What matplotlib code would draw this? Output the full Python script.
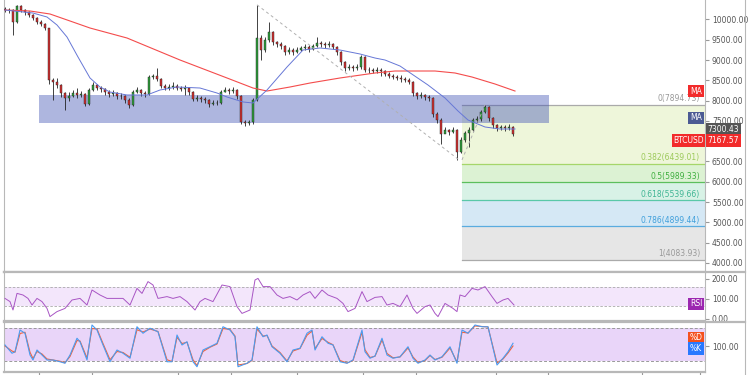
import matplotlib
matplotlib.use("Agg")
import matplotlib.pyplot as plt
import numpy as np
from matplotlib.lines import Line2D

# ---------------------------------------------------------------- #
# Data (BTCUSD, bar index = time)
# ---------------------------------------------------------------- #
first_open = 10260
closes = [10230, 10230, 9936, 10330, 10230, 10180, 10110, 10035, 9936, 9890,
          9790, 8507, 8458, 8384, 8187, 8064, 8114, 8187, 8138, 8163,
          7916, 8261, 8384, 8310, 8285, 8212, 8163, 8187, 8114, 8114,
          8015, 7892, 8212, 8261, 8187, 8163, 8581, 8606, 8532, 8360,
          8310, 8335, 8360, 8310, 8285, 8310, 8212, 8040, 8064, 8040,
          8015, 7916, 7941, 7941, 8212, 8261, 8236, 8261, 8114, 7473,
          7448, 7473, 8015, 9542, 9246, 9492, 9690, 9443, 9394, 9345,
          9197, 9246, 9197, 9246, 9296, 9320, 9271, 9345, 9419, 9394,
          9369, 9394, 9320, 9197, 8951, 8803, 8827, 8803, 8827, 9074,
          8754, 8754, 8729, 8754, 8729, 8655, 8606, 8581, 8557, 8532,
          8507, 8458, 8187, 8114, 8138, 8089, 8064, 7670, 7522, 7177,
          7276, 7227, 7276, 6734, 7029, 7202, 7276, 7522, 7546, 7719,
          7842, 7571, 7399, 7325, 7350, 7325, 7350, 7167.57]
highs = [10300, 10290, 10250, 10355, 10350, 10260, 10200, 10140, 10060, 9980,
         9920, 9800, 8560, 8560, 8420, 8220, 8200, 8260, 8300, 8240,
         8190, 8300, 8460, 8420, 8360, 8320, 8260, 8250, 8220, 8180,
         8150, 8060, 8260, 8330, 8290, 8240, 8620, 8660, 8800, 8560,
         8400, 8400, 8460, 8400, 8360, 8380, 8340, 8230, 8130, 8110,
         8090, 8040, 8010, 8010, 8270, 8330, 8310, 8330, 8290, 8130,
         7520, 7530, 8060, 10360, 9620, 9560, 9930, 9720, 9480, 9450,
         9380, 9320, 9290, 9310, 9350, 9390, 9360, 9400, 9560, 9470,
         9450, 9460, 9420, 9340, 9220, 8980, 8890, 8880, 8890, 9120,
         9090, 8820, 8800, 8820, 8800, 8760, 8700, 8660, 8640, 8620,
         8590, 8560, 8480, 8220, 8200, 8170, 8140, 8090, 7720, 7560,
         7340, 7310, 7340, 7300, 7100, 7260, 7340, 7570, 7620, 7780,
         7895, 7860, 7600, 7420, 7410, 7400, 7420, 7380]
lows = [10180, 10170, 9615, 9900, 10180, 10120, 10060, 9980, 9880, 9830,
        9740, 8400, 8020, 8300, 8100, 7770, 8000, 8080, 8060, 8080,
        7860, 7880, 8230, 8250, 8220, 8150, 8100, 8120, 8040, 8050,
        7950, 7820, 7870, 8190, 8120, 8100, 8130, 8530, 8480, 8300,
        8250, 8270, 8290, 8250, 8230, 8140, 8150, 7980, 8000, 7960,
        7950, 7850, 7880, 7880, 7920, 8200, 8170, 8190, 8050, 7420,
        7380, 7400, 7430, 8000, 9000, 9200, 9450, 9380, 9330, 9280,
        9130, 9150, 9120, 9170, 9220, 9250, 9200, 9240, 9320, 9330,
        9300, 9320, 9260, 9130, 8880, 8740, 8760, 8740, 8760, 8790,
        8700, 8690, 8670, 8690, 8600, 8600, 8550, 8520, 8500, 8470,
        8450, 8400, 8120, 8040, 8060, 8020, 7990, 7600, 7450, 6930,
        7200, 7150, 7200, 6540, 6700, 6980, 6860, 7250, 7470, 7490,
        7700, 7500, 7330, 7260, 7280, 7260, 7270, 7120]

# moving averages (sampled along the curve)
ma_slow_bar = [0, 6.25, 11.25, 16.25, 21.25, 30.5, 43.75, 55.5, 62, 65.5,
               71.25, 76.25, 83.75, 92.5, 97.5, 107.5, 112.5, 116.75, 122.5, 127.5]
ma_slow_val = [10231, 10207, 10133, 9961, 9788, 9542, 9000, 8557, 8310, 8236,
               8335, 8433, 8557, 8680, 8729, 8729, 8680, 8581, 8409, 8236]
ma_fast_bar = [0, 7, 10.5, 13, 15.5, 18.25, 21.25, 23.75, 26.25, 30.5,
               35.5, 38.75, 43, 48.75, 53, 55.5, 59.5, 62, 65.5, 70.5,
               74.5, 78.75, 83.75, 88.75, 92.5, 95, 98.75, 105.75, 110, 113.25,
               115.75, 120, 123.75, 127.5]
ma_fast_val = [10231, 10157, 10059, 9862, 9566, 9074, 8557, 8335, 8212, 8138,
               8138, 8261, 8335, 8310, 8187, 8089, 7966, 7941, 8261, 8827,
               9246, 9296, 9246, 9148, 9049, 9000, 8852, 8384, 8064, 7744,
               7522, 7350, 7300, 7300.43]

# support zone and fibonacci levels
zone_lo, zone_hi = 7455, 8140
zone_bars = (8.5, 136)
fib_ratios = [0, 0.382, 0.5, 0.618, 0.786, 1]
fib_prices = [7894.73, 6439.01, 5989.33, 5539.66, 4899.44, 4083.93]

# RSI
rsi_bar = [0, 1.25, 2, 3, 4.5, 5.75, 6.75, 8, 9.25, 10.5,
           11.25, 13, 15, 16.75, 18.75, 20.5, 21.75, 23.75, 25.5, 27,
           29.5, 31.25, 33, 34.25, 35.75, 37, 38.25, 40.5, 42, 43.75,
           45.5, 47.5, 48.75, 50, 52, 54.25, 56.25, 58, 59.25, 61.25,
           62.5, 63.25, 64.5, 66.25, 68, 69.5, 71.25, 73, 74.5, 76.25,
           77.5, 79.25, 80.75, 83, 84.5, 85.75, 87.5, 89.25, 90.5, 92.5,
           94.25, 95.5, 97, 98.75, 100.5, 102, 103, 105, 106.25, 107.5,
           108.25, 110, 112, 113, 113.75, 115, 116.75, 118.25, 120, 121.75,
           123, 124.5, 125.75, 127.25]
rsi_val = [103, 87, 45, 128, 120, 103, 70, 103, 87, 53,
           12, 37, 53, 95, 103, 70, 145, 120, 103, 103,
           103, 70, 153, 128, 187, 170, 103, 112, 103, 112,
           87, 45, 87, 103, 87, 170, 162, 62, 28, 45,
           195, 203, 162, 162, 120, 103, 112, 95, 120, 137,
           103, 145, 120, 103, 78, 37, 53, 137, 87, 108,
           112, 70, 78, 62, 120, 53, 28, 62, 70, 28,
           12, 78, 53, 37, 120, 112, 153, 145, 162, 112,
           78, 95, 103, 70]
rsi_band = (65, 158)

# Stochastic
stoch_bar = [0, 1.75, 2.5, 3.75, 5, 6.25, 7, 8, 9.25, 10.5,
             12, 13.75, 15, 16.25, 18, 18.75, 20.5, 21.75, 23, 24.5,
             26.25, 28, 29.5, 31.25, 33, 34.5, 36.25, 38.25, 40.5, 41.75,
             43, 44.25, 45.5, 47, 48, 49.5, 51.25, 53, 54.5, 56.25,
             57.5, 58.25, 60.5, 61.75, 63, 64.5, 65.5, 66.75, 68.75, 70.5,
             72, 73.75, 75.5, 76.75, 77.5, 79.25, 80.75, 82, 83.75, 85.5,
             87, 89.25, 90, 91.25, 92.5, 94.25, 95.5, 97, 98.75, 100.75,
             102, 103.25, 105, 106.25, 107.5, 109.25, 111.25, 113, 114.25, 115.75,
             117.5, 119.25, 120.75, 123, 124.5, 125.75, 127]
stoch_k = [104, 71, 77, 164, 151, 64, 44, 84, 64, 44,
           44, 37, 31, 64, 131, 117, 44, 184, 164, 104,
           37, 84, 71, 51, 177, 151, 171, 157, 37, 37,
           144, 104, 117, 37, 17, 84, 97, 111, 177, 164,
           137, 17, 31, 44, 177, 137, 144, 97, 71, 37,
           84, 91, 151, 164, 84, 137, 111, 104, 37, 31,
           44, 164, 77, 51, 60, 131, 64, 51, 57, 97,
           51, 31, 44, 64, 44, 57, 97, 31, 164, 151,
           184, 177, 177, 24, 51, 77, 111]
stoch_d = [100, 80, 75, 150, 155, 75, 50, 78, 68, 48,
           44, 39, 33, 58, 122, 120, 52, 170, 168, 110,
           45, 78, 74, 55, 165, 156, 168, 158, 45, 38,
           135, 110, 115, 45, 22, 78, 95, 108, 170, 166,
           140, 24, 30, 42, 168, 140, 142, 100, 74, 40,
           80, 90, 143, 160, 90, 130, 115, 105, 42, 32,
           42, 155, 85, 54, 59, 124, 70, 53, 56, 92,
           56, 34, 42, 62, 46, 55, 92, 36, 155, 152,
           180, 178, 176, 32, 48, 72, 100]
stoch_band = (40, 171)

time_ticks = [8.5, 21.75, 43.25, 56.5, 73, 89.5, 102.75, 122.75, 135.75, 159.25, 173.75]

# ---------------------------------------------------------------- #
W, H = 750, 375
fig = plt.figure(figsize=(W / 100, H / 100), dpi=100)
fig.patch.set_facecolor("white")


def px_rect(x0, y0, x1, y1):
    return [x0 / W, 1 - y1 / H, (x1 - x0) / W, (y1 - y0) / H]


ax = fig.add_axes(px_rect(4, 0, 705, 272))
ax_rsi = fig.add_axes(px_rect(4, 273, 705, 321), sharex=ax)
ax_st = fig.add_axes(px_rect(4, 322, 705, 372), sharex=ax)

XLIM = (-0.25, 175)
GRID = "#b8b8b8"

for a in (ax, ax_rsi, ax_st):
    a.set_xlim(*XLIM)
    a.yaxis.tick_right()
    a.tick_params(axis="y", direction="out", length=3, color="#999",
                  labelsize=5.5, labelcolor="#555", pad=2)
    a.tick_params(axis="x", bottom=False, labelbottom=False)
    a.spines["top"].set_visible(False)
    for s in ("left", "right", "bottom"):
        a.spines[s].set_color(GRID)
    a.spines["left"].set_linewidth(0.8)
    a.spines["right"].set_linewidth(0.8)
    a.spines["bottom"].set_linewidth(1.6)

# ----- main price pane ----- #
price_ticks = np.arange(4000, 10001, 500)
ax.set_ylim(3778, 10478)
ax.set_yticks(price_ticks)
# the 7000 label sits under the last-price tag in the reference
ax.set_yticklabels(["" if v == 7000 else f"{v:.2f}" for v in price_ticks])

# fibonacci fills and levels
fib_x0 = 114.25
fib_fill = ["#eef6da", "#dcf2d3", "#d8f2e6", "#d5e8f5", "#e6e6e6"]
fib_line = ["#aaaaaa", "#a5d66a", "#5cbf5c", "#5ac8a8", "#5aacdf", "#aaaaaa"]
fib_text = ["#999999", "#9cc95a", "#3fae3f", "#3fb594", "#3f9fdb", "#999999"]
for i in range(len(fib_prices) - 1):
    ax.fill_between([fib_x0, XLIM[1]], fib_prices[i + 1], fib_prices[i],
                    color=fib_fill[i], lw=0, zorder=1)
for r, p, lc, tc in zip(fib_ratios, fib_prices, fib_line, fib_text):
    ax.plot([fib_x0, XLIM[1]], [p, p], color=lc, lw=0.9, zorder=2)
    ax.text(173.75, p + 40, f"{r:g}({p:.2f})", color=tc, fontsize=5.5,
            ha="right", va="bottom", zorder=6)

# support zone
ax.fill_between(list(zone_bars), zone_lo, zone_hi, color="#3f51b5", alpha=0.42,
                lw=0, zorder=2)

# candles
bars = np.arange(len(closes))
c = np.array(closes, dtype=float)
o = np.array([first_open] + closes[:-1], dtype=float)
body_lo = np.minimum(o, c)
body_h = np.abs(c - o)
colors = np.where(c >= o, "#2e9e3a", "#d32f2f")
ax.vlines(bars, lows, highs, color="#222222", lw=0.6, zorder=3)
ax.bar(bars, body_h, bottom=body_lo, width=0.6, color=colors,
       edgecolor="#222222", linewidth=0.3, zorder=4)

# moving averages
ax.plot(ma_slow_bar, ma_slow_val, color="#f44c4c", lw=0.8, zorder=5)
ax.plot(ma_fast_bar, ma_fast_val, color="#6677d6", lw=0.7, zorder=5)

# trend lines
ax.plot([63, 113.25], [highs[63], 6560], color="#b0b0b0", lw=0.7,
        ls=(0, (3, 3)), zorder=5)
ax.plot([fib_x0, 120], [lows[113], highs[120]], color="#b0b0b0", lw=0.7,
        ls=(0, (3, 3)), zorder=5)

# ----- RSI pane ----- #
ax_rsi.set_ylim(-10, 230)
ax_rsi.set_yticks([0, 100, 200])
ax_rsi.set_yticklabels(["0.00", "100.00", "200.00"])
ax_rsi.axhspan(rsi_band[0], rsi_band[1], color="#f3e6fb", lw=0, zorder=1)
for b in rsi_band:
    ax_rsi.axhline(b, color="#aaaaaa", lw=0.6, ls=(0, (3, 2)), zorder=2)
ax_rsi.plot(rsi_bar, rsi_val, color="#a855c4", lw=0.7, zorder=3)

# ----- Stochastic pane ----- #
ax_st.set_ylim(-4, 196)
ax_st.set_yticks([100])
ax_st.set_yticklabels(["100.00"])
ax_st.axhspan(stoch_band[0], stoch_band[1], color="#e9d5f9", lw=0, zorder=1)
for b in stoch_band:
    ax_st.axhline(b, color="#999999", lw=0.7, ls=(0, (3, 2)), zorder=2)
ax_st.plot(stoch_bar, stoch_d, color="#f4623a", lw=0.8, zorder=3)
ax_st.plot(stoch_bar, stoch_k, color="#4a9bf0", lw=0.8, zorder=4)
ax_st.set_xticks(time_ticks)
ax_st.tick_params(axis="x", bottom=True, direction="out", length=3,
                  color="#999", labelbottom=False)

# ----- pane separators and price scale border ----- #
for y in (272, 321.5):
    fig.add_artist(Line2D([4 / W, 745 / W], [1 - y / H, 1 - y / H],
                          color=GRID, lw=1.6, transform=fig.transFigure))
fig.add_artist(Line2D([745 / W, 745 / W], [0, 1], color=GRID, lw=0.8,
                      transform=fig.transFigure))


# ----- axis tags ----- #
def tag(x, y, s, fc, fs=5.5):
    fig.text(x / W, 1 - y / H, s, color="white", fontsize=fs, ha="center",
             va="center", bbox=dict(boxstyle="square,pad=0.22", fc=fc, ec="none"))


tag(696, 91, "MA", "#f22b2b")
tag(696, 118, "MA", "#4c5b94")
tag(723.5, 129.5, "7300.43", "#555555")
tag(688.5, 140.5, "BTCUSD", "#f22b2b")
tag(723.5, 140.5, "7167.57", "#f22b2b")
tag(696, 304, "RSI", "#9c27b0")
tag(696, 338, "%D", "#f4511e")
tag(696, 348.5, "%K", "#2979ff")

fig.savefig("out.png", dpi=100)
